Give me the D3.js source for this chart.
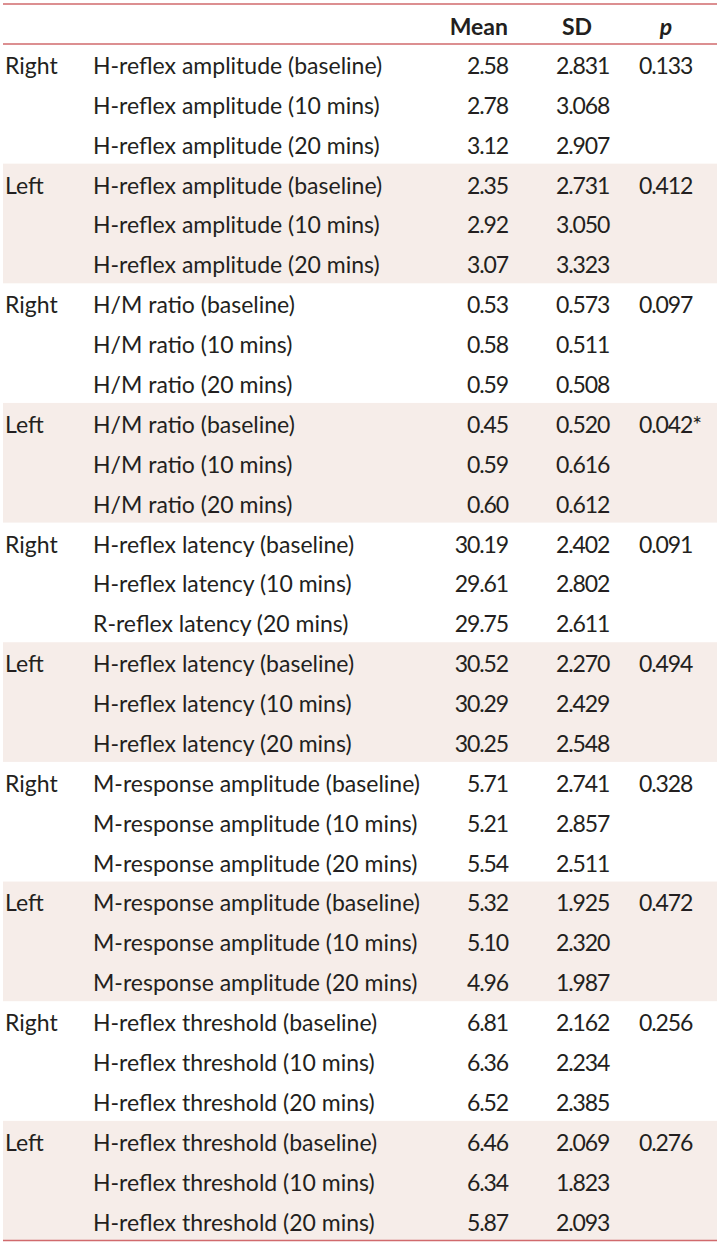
<!DOCTYPE html>
<html><head><meta charset="utf-8">
<script src="https://cdn.jsdelivr.net/npm/d3@7"></script>
<style>html,body{margin:0;padding:0;background:#fff;}svg{display:block;}</style>
</head><body>
<script>
const headers = ["Mean", "SD", "p"];
const sides = ["Right","Left","Right","Left","Right","Left","Right","Left","Right","Left"];
const measures = [
 "H-reflex amplitude (baseline)","H-reflex amplitude (10 mins)","H-reflex amplitude (20 mins)",
 "H-reflex amplitude (baseline)","H-reflex amplitude (10 mins)","H-reflex amplitude (20 mins)",
 "H/M ratio (baseline)","H/M ratio (10 mins)","H/M ratio (20 mins)",
 "H/M ratio (baseline)","H/M ratio (10 mins)","H/M ratio (20 mins)",
 "H-reflex latency (baseline)","H-reflex latency (10 mins)","R-reflex latency (20 mins)",
 "H-reflex latency (baseline)","H-reflex latency (10 mins)","H-reflex latency (20 mins)",
 "M-response amplitude (baseline)","M-response amplitude (10 mins)","M-response amplitude (20 mins)",
 "M-response amplitude (baseline)","M-response amplitude (10 mins)","M-response amplitude (20 mins)",
 "H-reflex threshold (baseline)","H-reflex threshold (10 mins)","H-reflex threshold (20 mins)",
 "H-reflex threshold (baseline)","H-reflex threshold (10 mins)","H-reflex threshold (20 mins)"
];
const means = ["2.58","2.78","3.12","2.35","2.92","3.07","0.53","0.58","0.59","0.45","0.59","0.60",
 "30.19","29.61","29.75","30.52","30.29","30.25","5.71","5.21","5.54","5.32","5.10","4.96",
 "6.81","6.36","6.52","6.46","6.34","5.87"];
const sds = ["2.831","3.068","2.907","2.731","3.050","3.323","0.573","0.511","0.508","0.520","0.616","0.612",
 "2.402","2.802","2.611","2.270","2.429","2.548","2.741","2.857","2.511","1.925","2.320","1.987",
 "2.162","2.234","2.385","2.069","1.823","2.093"];
const pvals = ["0.133","0.412","0.097","0.042*","0.091","0.494","0.328","0.472","0.256","0.276"];

(function(){
const W = 717, H = 1245;
const xLeft = 3, xRight = 717, yTop = 4, headBottom = 44, yBottom = 1240.5;
const textColor = "#231f20", lineColor = "#d06a6d", shade = "#f6ede9";
const font = "Lato, sans-serif";
const fs = 23;

const svg = d3.select("body").append("svg").attr("width", W).attr("height", H);
const y = d3.scaleBand().domain(d3.range(measures.length)).range([headBottom, yBottom]);
const g = d3.scaleBand().domain(d3.range(sides.length)).range([headBottom, yBottom]);

svg.selectAll("rect.band").data(sides.map((s,i)=>({s,i})).filter(d=>d.i%2===1))
  .enter().append("rect")
  .attr("x", xLeft).attr("width", xRight-xLeft)
  .attr("y", d=>g(d.i)).attr("height", g.bandwidth())
  .attr("fill", shade);

[yTop, headBottom, yBottom].forEach(yy=>{
  svg.append("line").attr("x1", xLeft).attr("x2", xRight).attr("y1", yy).attr("y2", yy)
    .attr("stroke", lineColor).attr("stroke-width", 1.4);
});

const hdr = [{t:headers[0],x:508,a:"end",it:false},{t:headers[1],x:577,a:"middle",it:false},{t:headers[2],x:666,a:"middle",it:true}];
svg.selectAll("text.h").data(hdr).enter().append("text")
  .attr("x", d=>d.x).attr("y", 35).attr("text-anchor", d=>d.a)
  .attr("font-family", font).attr("font-size", fs).attr("font-weight", "bold")
  .attr("font-style", d=>d.it?"italic":"normal").attr("fill", textColor)
  .text(d=>d.t);

const base = i => y(i) + y.bandwidth()/2 + 10;
function col(data, x, anchor, step, num){
  const t = svg.append("g").selectAll("text").data(data).enter().append("text")
    .attr("x", x).attr("y", (d,i)=>base(i*step))
    .attr("text-anchor", anchor)
    .attr("font-family", font).attr("font-size", fs).attr("fill", textColor)
    .text(d=>d);
  if (num) t.style("letter-spacing", "-1.1px");
}
col(sides, 5, "start", 3, false);
col(pvals, 639, "start", 3, true);
col(measures, 93, "start", 1, false);
col(means, 508, "end", 1, true);
col(sds, 556, "start", 1, true);
})();
</script>
</body></html>
